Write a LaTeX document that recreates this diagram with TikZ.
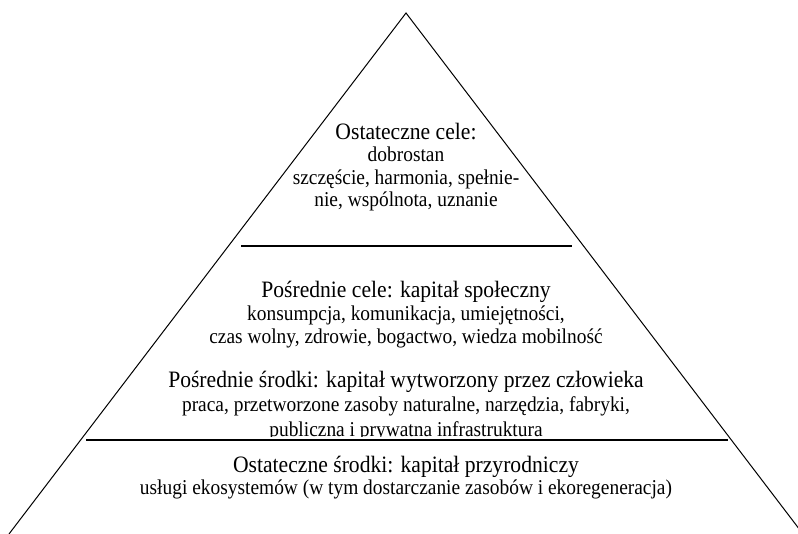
\documentclass[tikz,border=0pt]{standalone}
\usepackage{fontspec}
\setmainfont{Liberation Serif}
\newfontfamily\pyrfont[FakeStretch=0.92]{Liberation Serif}
\usetikzlibrary{positioning}

\tikzset{
  head/.style={anchor=base, inner sep=0pt, font=\pyrfont\fontsize{23.5}{26}\selectfont},
  body/.style={anchor=base, inner sep=0pt, font=\pyrfont\fontsize{21.1}{23}\selectfont},
  shelf/.style={line width=1.5pt},
}

\begin{document}
\begin{tikzpicture}[x=1pt,y=-1pt]
  \useasboundingbox (0,0) rectangle (798,534);
  % pyramid
  \coordinate (apex) at (406,13);
  \coordinate (bl) at (9,534);
  \coordinate (br) at (803,534);
  \begin{scope}
    \clip (0,0) rectangle (798,534);
    \draw[line width=1pt] (bl) -- (apex) -- (br);
  \end{scope}
  % shelves
  \coordinate (s1l) at (241,246);
  \coordinate (s1r) at (572,246);
  \coordinate (s2l) at (86,440);
  \coordinate (s2r) at (728,440);
  \draw[shelf] (s1l) -- (s1r);
  \draw[shelf] (s2l) -- (s2r);
  % ostateczne cele
  \node[head] (cele) at (406,140) {Ostateczne cele:};
  \node[body] (cele1) at (406,162) {dobrostan};
  \node[body] (cele2) at (406,185) {szczęście, harmonia, spełnie-};
  \node[body] (cele3) at (406,207) {nie, wspólnota, uznanie};
  % posrednie cele
  \node[head] (kap) at (406,298) {Pośrednie cele: kapitał społeczny};
  \node[body] (kap1) at (406,321) {konsumpcja, komunikacja, umiejętności,};
  \node[body] (kap2) at (406,344) {czas wolny, zdrowie, bogactwo, wiedza mobilność};
  % posrednie srodki
  \node[head] (wyt) at (406,388) {Pośrednie środki: kapitał wytworzony przez człowieka};
  \node[body] (wyt1) at (406,412) {praca, przetworzone zasoby naturalne, narzędzia, fabryki,};
  \begin{scope}
    \clip (0,0) rectangle (798,436.5);
    \node[body] (wyt2) at (406,436) {publiczna i prywatna infrastruktura};
  \end{scope}
  % ostateczne srodki
  \node[head] (przy) at (406,472) {Ostateczne środki: kapitał przyrodniczy};
  \node[body] (przy1) at (406,494) {usługi ekosystemów (w tym dostarczanie zasobów i ekoregeneracja)};
\end{tikzpicture}
\end{document}
